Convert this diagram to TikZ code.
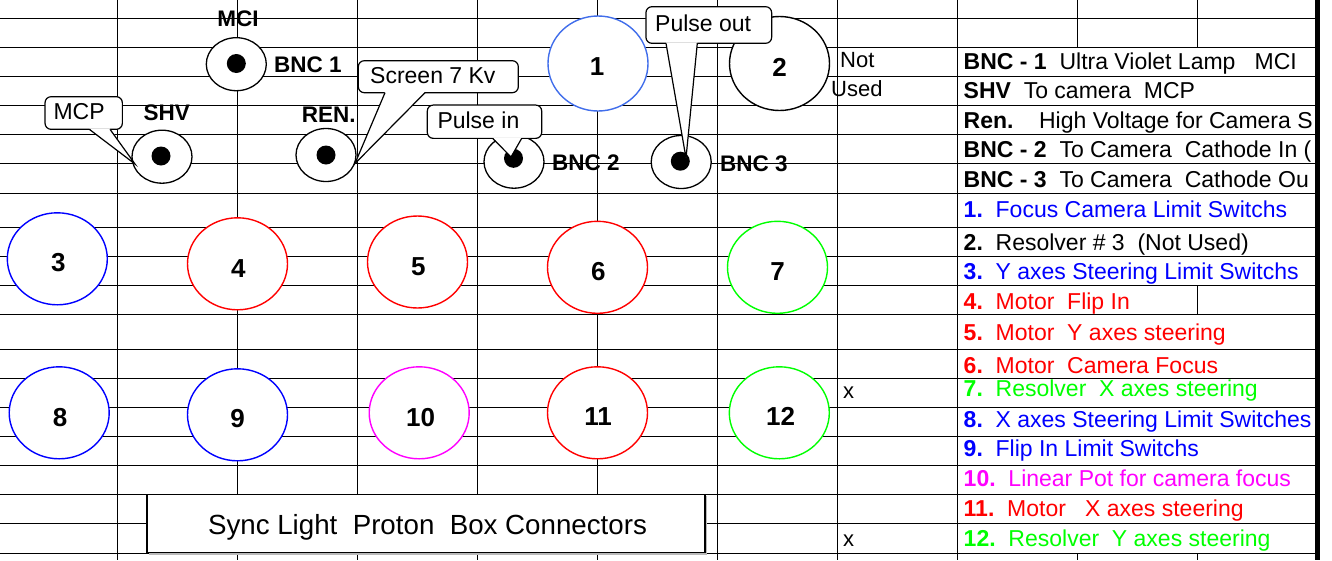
\documentclass[tikz,border=0pt]{standalone}
\usepackage{fontspec}
\setmainfont{Liberation Sans}
\usetikzlibrary{shapes.geometric}
\newcommand{\fsz}[1]{\fontsize{#1}{#1}\selectfont}
\definecolor{cblue}{RGB}{0,0,255}
\definecolor{cred}{RGB}{255,0,0}
\definecolor{cgreen}{RGB}{0,255,0}
\definecolor{cmag}{RGB}{255,0,255}
\definecolor{lblue}{RGB}{65,110,235}
\begin{document}
\begin{tikzpicture}[x=1pt,y=-1pt,
  gridline/.style={line width=1.1pt,black},
  bigell/.style={ellipse,draw,fill=white,line width=1.4pt,minimum width=100pt,minimum height=92pt,inner sep=0pt},
  smallell/.style={ellipse,draw,fill=white,line width=1.3pt,minimum width=60pt,minimum height=53pt,inner sep=0pt},
  pindot/.style={circle,fill=black,minimum size=19pt,inner sep=0pt},
  numlbl/.style={anchor=base,font=\fsz{26}\bfseries,inner sep=0pt},
  blbl/.style={anchor=base west,font=\fsz{22.5}\bfseries,inner sep=0pt},
  callbox/.style={draw,fill=white,rounded corners=6pt,line width=1.2pt,inner sep=0pt},
  calltext/.style={anchor=base west,font=\fsz{23},inner sep=0pt},
  ptrline/.style={line width=1.2pt,line join=miter},
  legtxt/.style={anchor=base west,font=\fsz{23},inner sep=0pt},
  plaintxt/.style={anchor=base west,font=\fsz{22},inner sep=0pt},
]
\useasboundingbox (0,0) rectangle (1332,560);
\fill[white] (0,0) rectangle (1332,560);

% spreadsheet grid
\foreach \y in {18.3,47.5,76.5,105.5,134.5,163.5,193.3,227.3,256.3,285.3,314.3,349.3,378.3,407.3,436.3,465.3,494.3,523.3,553.3}
  \draw[gridline] (0,\y) -- (1316,\y);
\foreach \x in {117.3,237.3,357.3,477.3,597.3,717.3,837.3,957.3}
  \draw[gridline] (\x,0) -- (\x,560);
\foreach \x in {1077.3,1197.3}{
  \draw[gridline] (\x,0) -- (\x,47.5);
  \draw[gridline] (\x,553.3) -- (\x,560);
}
\draw[gridline] (1197.3,285.3) -- (1197.3,314.3);

% big connectors
\node[bigell,draw=lblue,minimum height=95pt] (c1) at (598,63.5) {};
\node[bigell,minimum height=94pt] (c2) at (779.5,63.5) {};
\node[bigell,draw=cblue] (c3) at (57.3,258.8) {};
\node[bigell,draw=cred] (c4) at (237.5,263.8) {};
\node[bigell,draw=cred] (c5) at (417.5,262) {};
\node[bigell,draw=cred] (c6) at (597.5,267.3) {};
\node[bigell,draw=cgreen] (c7) at (777.5,267.3) {};
\node[bigell,draw=cblue] (c8) at (59.2,412.8) {};
\node[bigell,draw=cblue] (c9) at (237.5,414.8) {};
\node[bigell,draw=cmag] (c10) at (419.2,412.8) {};
\node[bigell,draw=cred] (c11) at (597.5,412.8) {};
\node[bigell,draw=cgreen] (c12) at (779.3,412.8) {};

\node[numlbl] (n1) at (597,75) {1};
\node[numlbl] (n2) at (779.7,76) {2};
\node[numlbl] (n3) at (58.3,271.7) {3};
\node[numlbl] (n4) at (238.3,277.3) {4};
\node[numlbl] (n5) at (418.3,275) {5};
\node[numlbl] (n6) at (598.3,280) {6};
\node[numlbl] (n7) at (777.7,280) {7};
\node[numlbl] (n8) at (60,426) {8};
\node[numlbl] (n9) at (237.7,427.3) {9};
\node[numlbl] (n10) at (420.7,426) {10};
\node[numlbl] (n11) at (598,425.7) {11};
\node[numlbl] (n12) at (780.5,425.7) {12};

% small connectors
\node[smallell] (bnc1) at (236.3,64.2) {};
\node[pindot] (bnc1d) at (236.3,63.5) {};
\node[smallell] (shv) at (162,156.7) {};
\node[pindot] (shvd) at (161,156) {};
\node[smallell] (ren) at (326,155) {};
\node[pindot] (rend) at (326,155) {};
\node[smallell] (bnc2) at (514,161.7) {};
\node[pindot] (bnc2d) at (513.5,158.3) {};
\node[smallell] (bnc3) at (681.2,162) {};
\node[pindot] (bnc3d) at (680.3,161.2) {};

\node[blbl,anchor=base] (mci) at (238,26.7) {MCI};
\node[blbl] (lbnc1) at (274,72.7) {BNC 1};
\node[blbl] (lshv) at (143.3,120.7) {SHV};
\node[blbl] (lren) at (301.7,122.7) {REN.};
\node[blbl] (lbnc2) at (552,170.7) {BNC 2};
\node[blbl] (lbnc3) at (720,171.5) {BNC 3};

% callouts
\node[callbox,minimum width=77.3pt,minimum height=32.6pt] (mcpbox) at (83.7,113) {};
\coordinate (mcptip) at (135,164);
\fill[white] ([xshift=5.6pt,yshift=1.5pt]mcpbox.south) -- (mcptip) -- ([xshift=26.3pt,yshift=1.5pt]mcpbox.south) -- cycle;
\draw[ptrline] ([xshift=5.6pt,yshift=0.6pt]mcpbox.south) -- (mcptip) -- ([xshift=26.3pt,yshift=0.6pt]mcpbox.south);
\node[calltext] (mcpt) at (53.3,119.2) {MCP};

\node[callbox,minimum width=160pt,minimum height=32pt] (scrbox) at (438.3,76.7) {};
\coordinate (scrtip) at (355,163.5);
\fill[white] ([xshift=-53.3pt,yshift=1.5pt]scrbox.south) -- (scrtip) -- ([xshift=-13.3pt,yshift=1.5pt]scrbox.south) -- cycle;
\draw[ptrline] ([xshift=-53.3pt,yshift=0.6pt]scrbox.south) -- (scrtip) -- ([xshift=-13.3pt,yshift=0.6pt]scrbox.south);
\node[calltext] (scrt) at (370,83.8) {Screen 7 Kv};

\node[callbox,minimum width=114.4pt,minimum height=33.3pt] (pinbox) at (484.5,121.7) {};
\coordinate (pintip) at (511,157);
\fill[white] ([xshift=8.2pt,yshift=1.5pt]pinbox.south) -- (pintip) -- ([xshift=37.2pt,yshift=1.5pt]pinbox.south) -- cycle;
\draw[ptrline] ([xshift=8.2pt,yshift=0.6pt]pinbox.south) -- (pintip) -- ([xshift=37.2pt,yshift=0.6pt]pinbox.south);
\node[calltext] (pint) at (437.3,128.2) {Pulse in};

\node[callbox,minimum width=125.7pt,minimum height=36.6pt] (poutbox) at (708.8,25) {};
\coordinate (pouttip) at (686,158);
\fill[white] ([xshift=-42.8pt,yshift=1.5pt]poutbox.south) -- (pouttip) -- ([xshift=-11.5pt,yshift=1.5pt]poutbox.south) -- cycle;
\draw[ptrline] ([xshift=-42.8pt,yshift=0.6pt]poutbox.south) -- (pouttip) -- ([xshift=-11.5pt,yshift=0.6pt]poutbox.south);
\node[calltext] (poutt) at (655,31.5) {Pulse out};

% loose cell texts
\node[plaintxt] (notl) at (840,67.7) {Not};
\node[plaintxt] (usedl) at (831,96.7) {Used};
\node[plaintxt] (xa) at (843,398) {x};
\node[plaintxt] (xb) at (843,546) {x};

% title box
\fill[gray!55] (149,496.3) rectangle (707,554.5);
\node[draw,fill=white,line width=1.1pt,minimum width=558pt,minimum height=58pt,inner sep=0pt] (title) at (426,523.4) {};
\node[anchor=base,font=\fsz{27.7},inner sep=0pt] (titletxt) at (427.5,534) {Sync Light~~Proton~~Box Connectors};

% legend
\begin{scope}
\clip (957,0) rectangle (1315.5,560);
\node[legtxt] (g1) at (963.5,69.6) {\textbf{BNC - 1}~~Ultra Violet Lamp~~~MCI};
\node[legtxt] (g2) at (963.5,98.8) {\textbf{SHV}~~To camera~~MCP};
\node[legtxt] (g3) at (963.5,128) {\textbf{Ren.}~~~~High Voltage for Camera S};
\node[legtxt] (g4) at (963.5,157.6) {\textbf{BNC - 2}~~To Camera~~Cathode In (};
\node[legtxt] (g5) at (963.5,187) {\textbf{BNC - 3}~~To Camera~~Cathode Ou};
\node[legtxt,text=cblue] (L1) at (963.5,217.6) {\textbf{1.}~~Focus Camera Limit Switchs};
\node[legtxt] (L2) at (963.5,250.5) {\textbf{2.}~~Resolver \# 3~~(Not Used)};
\node[legtxt,text=cblue] (L3) at (963.5,279) {\textbf{3.}~~Y axes Steering Limit Switchs};
\node[legtxt,text=cred] (L4) at (963.5,309.3) {\textbf{4.}~~Motor~~Flip In};
\node[legtxt,text=cred] (L5) at (963.5,340.3) {\textbf{5.}~~Motor~~Y axes steering};
\node[legtxt,text=cred] (L6) at (963.5,373.2) {\textbf{6.}~~Motor~~Camera Focus};
\node[legtxt,text=cgreen] (L7) at (963.5,396.8) {\textbf{7.}~~Resolver~~X axes steering};
\node[legtxt,text=cblue] (L8) at (963.5,427) {\textbf{8.}~~X axes Steering Limit Switches};
\node[legtxt,text=cblue] (L9) at (963.5,456.6) {\textbf{9.}~~Flip In Limit Switchs};
\node[legtxt,text=cmag] (L10) at (963.5,486) {\textbf{10.}~~Linear Pot for camera focus};
\node[legtxt,text=cred] (L11) at (963.5,516) {\textbf{11.}~~Motor~~~X axes steering};
\node[legtxt,text=cgreen] (L12) at (963.5,546.4) {\textbf{12.}~~Resolver~~Y axes steering};
\end{scope}

\draw[line width=4.5pt] (1317.7,0) -- (1317.7,560);
\end{tikzpicture}
\end{document}
